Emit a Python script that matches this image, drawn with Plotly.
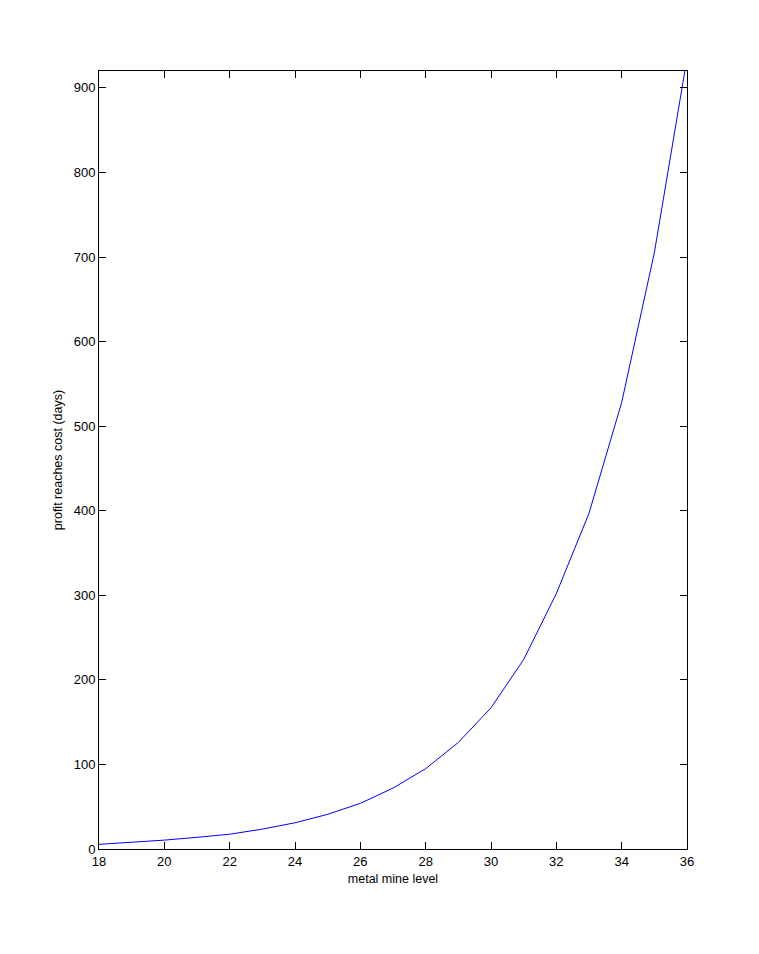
import plotly.graph_objects as go

# metal mine level vs days until profit reaches cost
levels = list(range(18, 37))
days = [5.5, 7.8, 10.5, 13.8, 17.5, 23.5, 31, 41, 54, 72, 95, 126,
        167, 224, 302, 397, 528, 705, 935]

x_ticks = list(range(18, 37, 2))
y_ticks = list(range(0, 901, 100))

fig = go.Figure()
fig.add_trace(
    go.Scatter(x=levels, y=days, mode='lines',
               line=dict(color='rgb(0,0,255)', width=1),
               showlegend=False)
)

axis_common = dict(
    showgrid=False, zeroline=False,
    showline=True, linecolor='black', linewidth=1,
    mirror='ticks', ticks='inside', ticklen=7, tickcolor='black', tickwidth=1,
    tickfont=dict(family='Liberation Sans, Arial', size=13, color='black'),
)

# page body has an 8px margin, so the figure is a bit smaller than the window
fig.update_layout(
    width=751, height=946,
    margin=dict(l=91, r=72, t=63, b=105),
    paper_bgcolor='white', plot_bgcolor='white',
    font=dict(family='Liberation Sans, Arial', size=12.5, color='black'),
    xaxis=dict(range=[18, 36], tickvals=x_ticks,
               title=dict(text='metal mine level', standoff=6,
                          font=dict(size=12.5)),
               **axis_common),
    yaxis=dict(range=[0, 920], tickvals=y_ticks,
               title=dict(text='profit reaches cost (days)', standoff=8,
                          font=dict(size=12.5)),
               **axis_common),
)

fig.write_html("out.html")
